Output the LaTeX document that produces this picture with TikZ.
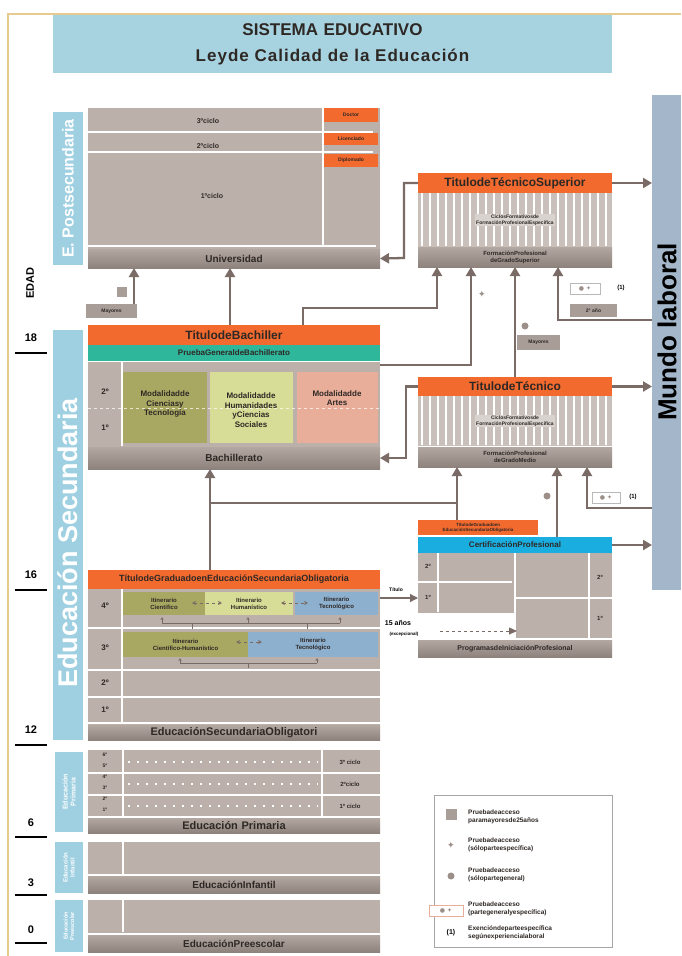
\documentclass[tikz,border=0pt]{standalone}
\usepackage{fontspec}
\setmainfont{Liberation Sans}
\newfontfamily\djv{DejaVu Sans}
\usetikzlibrary{arrows.meta,calc}
\definecolor{bodyc}{HTML}{BCB0AA}
\definecolor{bandtop}{HTML}{B3A7A1}
\definecolor{bandbot}{HTML}{8E827C}
\definecolor{orng}{HTML}{F26A2E}
\definecolor{cteal}{HTML}{2FB79C}
\definecolor{lblue}{HTML}{9FD0E1}
\definecolor{ttlblue}{HTML}{A7D3E1}
\definecolor{mundoc}{HTML}{A3B6CA}
\definecolor{connc}{HTML}{7A6B66}
\definecolor{olivec}{HTML}{A9A862}
\definecolor{yelgc}{HTML}{D7DD96}
\definecolor{salmc}{HTML}{E9AE99}
\definecolor{esobc}{HTML}{8DB0CF}
\definecolor{certbc}{HTML}{1AAEE0}
\definecolor{ctan}{HTML}{E6CB8E}
\definecolor{txtc}{HTML}{2E2825}
\definecolor{stripec}{HTML}{C9C0BB}
\definecolor{dotc}{HTML}{9C8E88}
\definecolor{boxc}{HTML}{A99D97}
\newcommand\bx[7]{\node[anchor=north west,inner sep=0pt,outer sep=0pt,minimum width=#4pt,minimum height=#5pt,text width=#4pt,align=center,text=txtc,#6] (#1) at (#2,#3) {#7};}
\newcommand\fsz[2]{\fontsize{#1}{#2}\selectfont}
\begin{document}
\begin{tikzpicture}[x=1pt,y=-1pt,
  conn/.style={draw=connc,line width=2.3pt},
  arr/.style={conn,-{Triangle[length=9pt,width=10pt]}},
  darr/.style={draw=connc,line width=0.8pt,dashed,{Stealth[length=4pt,width=4pt]}-{Stealth[length=4pt,width=4pt]}},
  dsharr/.style={draw=connc,line width=0.8pt,dashed,-{Triangle[length=8pt,width=7pt]}},
  brk/.style={draw=connc,line width=1pt},
  sep/.style={draw=white,line width=1.6pt},
  band/.style={top color=bandtop,bottom color=bandbot},
  f5/.style={font=\bfseries\fsz{5}{6}},
  f6/.style={font=\bfseries\fsz{6}{7}},
  f7/.style={font=\bfseries\fsz{7}{8.5}},
  f8/.style={font=\bfseries\fsz{8}{9.5}},
  f9/.style={font=\bfseries\fsz{9}{10}},
  f10/.style={font=\bfseries\fsz{10}{11}},
  f11/.style={font=\bfseries\fsz{11}{12}},
  f12/.style={font=\bfseries\fsz{12}{13}},
  ord/.style={inner sep=0pt,text=txtc,font=\bfseries\fsz{8}{9}},
  lgt/.style={anchor=west,align=left,inner sep=0pt,text=txtc,font=\bfseries\fsz{6.5}{8}},
  dotn/.style={circle,fill=dotc,minimum size=7pt,inner sep=0pt},
  starn/.style={inner sep=0pt,text=dotc,font=\djv\fsz{9}{9}},
  icon/.style={draw=gray!55,fill=white,text=dotc,font=\djv\fsz{6}{6}}
]
\useasboundingbox (0,0) rectangle (681,956);
\fill[white] (0,0) rectangle (681,956);
\draw[ctan,line width=1.5pt] (8,956) -- (8,14) -- (681,14);

% title
\bx{title}{53}{15}{559}{58}{fill=ttlblue,font=\bfseries\fsz{17}{26}}{SISTEMA EDUCATIVO\\{\addfontfeature{LetterSpace=6}Leyde Calidad de la Educación}}

% age axis
\node[rotate=90,inner sep=0pt,font=\bfseries\fsz{11}{11}] (edad) at (30,283) {EDAD};
\node[f11,inner sep=0pt] (a18) at (31,338) {18};
\node[f11,inner sep=0pt] (a16) at (31,575) {16};
\node[f11,inner sep=0pt] (a12) at (31,730) {12};
\node[f11,inner sep=0pt] (a6) at (31,823) {6};
\node[f11,inner sep=0pt] (a3) at (31,883) {3};
\node[f11,inner sep=0pt] (a0) at (31,930) {0};
\foreach \yy in {353,590,745,837,895,943} \draw[black,line width=1.6pt] (15,\yy) -- (47,\yy);

% postsecundaria
\bx{pslbl}{53}{112}{30}{153}{fill=lblue}{}
\node[rotate=90,inner sep=0pt,text=white,font=\bfseries\fsz{16}{16}] (pstxt) at (pslbl.center) {E. Postsecundaria};
\bx{univ}{88}{108}{292}{141}{fill=bodyc}{}
\draw[sep] (88,132) -- (373,132);
\draw[sep] (88,152) -- (373,152);
\draw[sep] (88,246) -- (376,246);
\draw[sep] (323,108) -- (323,246);
\node[f7,text=txtc,inner sep=0pt] (c3) at (208,121) {3ºciclo};
\node[f7,text=txtc,inner sep=0pt] (c2) at (208,146) {2ºciclo};
\node[f7,text=txtc,inner sep=0pt] (c1) at (212,196) {1ºciclo};
\bx{doc}{324}{108}{54}{14}{fill=orng,f5}{Doctor}
\bx{lic}{324}{133}{54}{12}{fill=orng,f5}{Licenciado}
\bx{dip}{324}{154}{54}{13}{fill=orng,f5}{Diplomado}
\bx{univband}{88}{249}{292}{19}{band,f10}{Universidad}

\node[fill=boxc,minimum size=10pt,inner sep=0pt] (sq1) at (122,292) {};
\bx{may1}{86}{304}{51}{14}{fill=boxc,f5}{Mayores}

% Mundo laboral
\bx{mundo}{652}{95}{29}{495}{fill=mundoc}{}
\node[rotate=90,inner sep=0pt,font=\bfseries\fsz{26}{26}] (mundot) at (667,332) {Mundo laboral};

% Tecnico superior
\bx{tsttl}{418}{173}{194}{20}{fill=orng,f12}{TitulodeTécnicoSuperior}
\bx{tsmid}{418}{193}{194}{54}{fill=stripec}{}
\foreach \xx in {422,430,...,610} \draw[white,line width=1.3pt] (\xx,193) -- (\xx,246);
\node[f5,fill=stripec!70!white,inner sep=1pt,align=center,text=txtc] (tsmidt) at (tsmid.center) {CiclosFormativosde\\FormaciónProfesionalEspecífica};
\bx{tsband}{418}{247}{194}{20}{band,f6}{FormaciónProfesional\\deGradoSuperior}

% Bachiller
\bx{bachttl}{88}{325}{292}{20}{fill=orng,f12}{TitulodeBachiller}
\bx{bachpg}{88}{345}{292}{16}{fill=cteal,f8}{PruebaGeneraldeBachillerato}
\bx{bach}{88}{362}{292}{85}{fill=bodyc}{}
\draw[sep] (88,361.5) -- (380,361.5);
\draw[sep] (122,362) -- (122,446);
\bx{mct}{123}{372}{84}{71}{fill=olivec}{}
\bx{mhcs}{210}{372}{83}{71}{fill=yelgc}{}
\bx{mart}{297}{372}{81}{71}{fill=salmc}{}
\draw[white,line width=1pt,dashed,opacity=0.7] (88,408) -- (380,408);
\node[f8,align=center,inner sep=0pt,text=txtc] (mctt) at (165,404) {Modalidadde\\Cienciasy\\Tecnología};
\node[f8,align=center,inner sep=0pt,text=txtc] (mhcst) at (251,410) {Modalidadde\\Humanidades\\yCiencias\\Sociales};
\node[f8,align=center,inner sep=0pt,text=txtc] (martt) at (337,398) {Modalidadde\\Artes};
\node[ord] (b2) at (105,392) {2º};
\node[ord] (b1) at (105,428) {1º};
\bx{bachband}{88}{447}{292}{22}{band,f10}{Bachillerato}

% Tecnico
\bx{tecttl}{418}{377}{194}{19}{fill=orng,f12}{TitulodeTécnico}
\bx{tecmid}{418}{396}{194}{50}{fill=stripec}{}
\foreach \xx in {422,430,...,610} \draw[white,line width=1.3pt] (\xx,396) -- (\xx,445);
\node[f5,fill=stripec!70!white,inner sep=1pt,align=center,text=txtc] (tecmidt) at (tecmid.center) {CiclosFormativosde\\FormaciónProfesionalEspecífica};
\bx{tecband}{418}{447}{194}{20}{band,f6}{FormaciónProfesional\\deGradoMedio}

% Certificacion profesional
\bx{certgr}{418}{520}{120}{15}{fill=orng,font=\bfseries\fsz{4.5}{5}}{TítulodeGraduadoen\\EducaciónSecundariaObligatoria}
\bx{certcp}{418}{537}{194}{16}{fill=certbc,f8}{CertificaciónProfesional}
\bx{cert}{418}{553}{194}{87}{fill=bodyc}{}
\fill[white] (418,613) rectangle (515,638);
\draw[sep] (438,553) -- (438,612);
\draw[sep] (418,582) -- (512,582);
\draw[sep] (515,553) -- (515,640);
\draw[sep] (589,553) -- (589,640);
\draw[sep] (515,598) -- (612,598);
\draw[sep] (418,639) -- (612,639);
\bx{certin}{517}{599}{70}{38}{}{}
\node[ord,font=\bfseries\fsz{6}{7}] (c2l) at (428,566) {2º};
\node[ord,font=\bfseries\fsz{6}{7}] (c1l) at (428,597) {1º};
\node[ord,font=\bfseries\fsz{6}{7}] (c2r) at (600,577) {2º};
\node[ord,font=\bfseries\fsz{6}{7}] (c1r) at (600,618) {1º};
\bx{certband}{418}{640}{194}{17}{band,f7}{ProgramasdeIniciaciónProfesional}

% Educacion secundaria label
\bx{seclbl}{53}{330}{30}{410}{fill=lblue}{}
\node[rotate=90,inner sep=0pt,text=white,font=\bfseries\fsz{27}{27}] (sectxt) at (68,543) {Educación Secundaria};

% ESO
\bx{esottl}{88}{570}{292}{19}{fill=orng,f9}{TítulodeGraduadoenEducaciónSecundariaObligatoria}
\bx{eso}{88}{589}{292}{136}{fill=bodyc}{}
\draw[sep] (122,589) -- (122,723);
\foreach \yy in {628,670,697,723} \draw[sep] (88,\yy) -- (380,\yy);
\bx{ic}{123}{592}{82}{23}{fill=olivec,f6}{Itinerario\\Científico}
\bx{ih}{205}{592}{88}{23}{fill=yelgc,f6}{Itinerario\\Humanístico}
\bx{it4}{295}{592}{83}{23}{fill=esobc,f6}{Itinerario\\Tecnológico}
\bx{ich}{123}{632}{125}{25}{fill=olivec,f6}{Itinerario\\Científico-Humanístico}
\bx{it3}{248}{632}{130}{25}{fill=esobc,f6}{Itinerario\\Tecnológico}
\draw[darr] (192,603) -- (222,603);
\draw[darr] (281,603) -- (308,603);
\draw[darr] (236,642) -- (262,642);
\draw[brk] (162,623) -- (340,623);
\foreach \xx in {162,248,340} \draw[brk,-{Stealth[length=3pt,width=3pt]}] (\xx,623) -- (\xx,617);
\foreach \xx in {192,307} \draw[brk] (\xx,623) -- (\xx,629);
\draw[brk] (180,663) -- (317,663);
\foreach \xx in {180,317} \draw[brk,-{Stealth[length=3pt,width=3pt]}] (\xx,663) -- (\xx,658);
\draw[brk] (248,663) -- (248,668);
\node[ord] (e4) at (105,606) {4º};
\node[ord] (e3) at (105,648) {3º};
\node[ord] (e2) at (105,683) {2º};
\node[ord] (e1) at (105,710) {1º};
\bx{esoband}{88}{725}{292}{15}{band,f11}{EducaciónSecundariaObligatori}

% Primaria
\bx{prilbl}{55}{752}{28}{80}{fill=lblue}{}
\node[rotate=90,inner sep=0pt,text=white,align=center,font=\bfseries\fsz{7}{8}] (pritxt) at (prilbl.center) {Educación\\Primaria};
\bx{pri}{88}{750}{292}{67}{fill=bodyc}{}
\draw[sep] (123,750) -- (123,817);
\draw[sep] (322,750) -- (322,817);
\foreach \yy in {773,795,817} \draw[sep] (88,\yy) -- (380,\yy);
\foreach \yy in {762,784,806} \draw[white,line width=1.2pt,dash pattern=on 2pt off 7pt] (128,\yy) -- (318,\yy);
\node[f6,text=txtc,inner sep=0pt] (p3) at (350,762) {3º ciclo};
\node[f6,text=txtc,inner sep=0pt] (p2) at (350,784) {2ºciclo};
\node[f6,text=txtc,inner sep=0pt] (p1) at (350,806) {1º ciclo};
\node[f5,text=txtc,inner sep=0pt] (o6) at (105,755) {6º};
\node[f5,text=txtc,inner sep=0pt] (o5) at (105,766) {5º};
\node[f5,text=txtc,inner sep=0pt] (o4) at (105,777) {4º};
\node[f5,text=txtc,inner sep=0pt] (o3) at (105,788) {3º};
\node[f5,text=txtc,inner sep=0pt] (o2) at (105,799) {2º};
\node[f5,text=txtc,inner sep=0pt] (o1) at (105,810) {1º};
\bx{priband}{88}{818}{292}{15}{band,f11}{Educación Primaria}

% Infantil
\bx{inflbl}{55}{842}{28}{51}{fill=lblue}{}
\node[rotate=90,inner sep=0pt,text=white,align=center,font=\bfseries\fsz{6}{7}] (inftxt) at (inflbl.center) {Educación\\Infantil};
\bx{inf}{88}{842}{292}{33}{fill=bodyc}{}
\draw[sep] (123,842) -- (123,874);
\draw[sep] (88,875) -- (380,875);
\bx{infband}{88}{876}{292}{17}{band,f10}{EducaciónInfantil}

% Preescolar
\bx{prelbl}{55}{900}{28}{52}{fill=lblue}{}
\node[rotate=90,inner sep=0pt,text=white,align=center,font=\bfseries\fsz{5.5}{6.5}] (pretxt) at (prelbl.center) {Educación\\Preescolar};
\bx{pre}{88}{900}{292}{33}{fill=bodyc}{}
\draw[sep] (123,900) -- (123,932);
\draw[sep] (88,934) -- (380,934);
\bx{preband}{88}{935}{292}{17}{band,f10}{EducaciónPreescolar}

% markers near technical blocks
\node[starn] (star1) at (482,294) {✦};
\node[dotn] (dot1) at (525,326) {};
\bx{may2}{517}{335}{43}{15}{fill=boxc,f5}{Mayores}
\bx{ic1}{570}{283}{30}{11}{icon}{● ✦}
\node[f6,inner sep=0pt] (one1) at (621,288) {(1)};
\bx{ano2}{570}{304}{47}{13}{fill=boxc,f5}{2º año}
\node[dotn] (dot2) at (547,496) {};
\bx{ic2}{592}{492}{28}{11}{icon}{● ✦}
\node[f6,inner sep=0pt] (one2) at (633,497) {(1)};
\node[f5,inner sep=0pt] (titl) at (396,590) {Título};
\node[f7,inner sep=0pt] (anos) at (398,623) {15 años};
\node[font=\bfseries\fsz{4.5}{5},inner sep=0pt] (exc) at (404,634) {(excepcional)};

% connectors
\coordinate (xa) at (134,0);
\coordinate (xb) at (230,0);
\coordinate (k1) at (404,258);
\coordinate (k2) at (437,308);
\coordinate (xc) at (303,0);
\coordinate (k3) at (471,365);
\coordinate (xd) at (515,0);
\coordinate (k5) at (558,320);
\coordinate (k6) at (406,458);
\coordinate (xe) at (210,0);
\coordinate (k7) at (457,503);
\coordinate (xf) at (557,0);
\coordinate (k8) at (587,508);
\coordinate (y1) at (0,598);
\coordinate (k9) at (440,631);

\draw[arr] (may1.north -| xa) -- (univband.south -| xa);
\draw[arr] (bachttl.north -| xb) -- (univband.south -| xb);
\draw[arr] (tsttl.west) -| (k1) -- (univband.east);
\draw[arr] (bachttl.north -| xc) |- (k2) -- (k2 |- tsband.south);
\draw[arr] (k3 -| bach.east) -- (k3) -- (k3 |- tsband.south);
\draw[arr] (tecttl.north -| xd) -- (tsband.south -| xd);
\draw[arr] (k5 -| mundo.west) -- (k5) -- (k5 |- tsband.south);
\draw[arr] (tsttl.east) -- (tsttl.east -| mundo.west);
\draw[arr] (tecttl.west) -| (k6) -- (k6 -| bachband.east);
\draw[arr] (tecttl.east) -- (tecttl.east -| mundo.west);
\draw[arr] (esottl.north -| xe) -- (bachband.south -| xe);
\draw[conn] (k7 -| xe) -- (k7);
\draw[arr] (certgr.north -| k7) -- (tecband.south -| k7);
\draw[arr] (certcp.north -| xf) -- (tecband.south -| xf);
\draw[arr] (k8 -| mundo.west) -- (k8) -- (k8 |- tecband.south);
\draw[arr] (certcp.east) -- (certcp.east -| mundo.west);
\draw[draw=connc,line width=1.2pt,-{Triangle[length=8pt,width=8pt]}] (y1 -| eso.east) -- (y1 -| cert.west);
\draw[dsharr] (k9) -- (k9 -| certin.west);

% legend
\node[draw=gray!70,line width=0.8pt,anchor=north west,minimum width=178pt,minimum height=152pt,inner sep=0pt] (leg) at (434,795) {};
\node[fill=boxc,minimum size=11pt,inner sep=0pt] (lsq) at (451,814) {};
\node[lgt] (lt1) at (468,817) {Pruebadeacceso\\paramayoresde25años};
\node[starn] (lst) at (451,845) {✦};
\node[lgt] (lt2) at (468,845) {Pruebadeacceso\\(sóloparteespecífica)};
\node[dotn] (ldot) at (451,876) {};
\node[lgt] (lt3) at (468,875) {Pruebadeacceso\\(sólopartegeneral)};
\node[icon,draw=salmc,minimum width=34pt,minimum height=11pt,inner sep=0pt] (lic) at (446,911) {● ✦};
\node[lgt] (lt4) at (468,909) {Pruebadeacceso\\(partegeneralyespecífica)};
\node[f7,inner sep=0pt] (lone) at (451,933) {(1)};
\node[lgt] (lt5) at (468,933) {Exencióndeparteespecífica\\segúnexperiencialaboral};
\end{tikzpicture}
\end{document}
